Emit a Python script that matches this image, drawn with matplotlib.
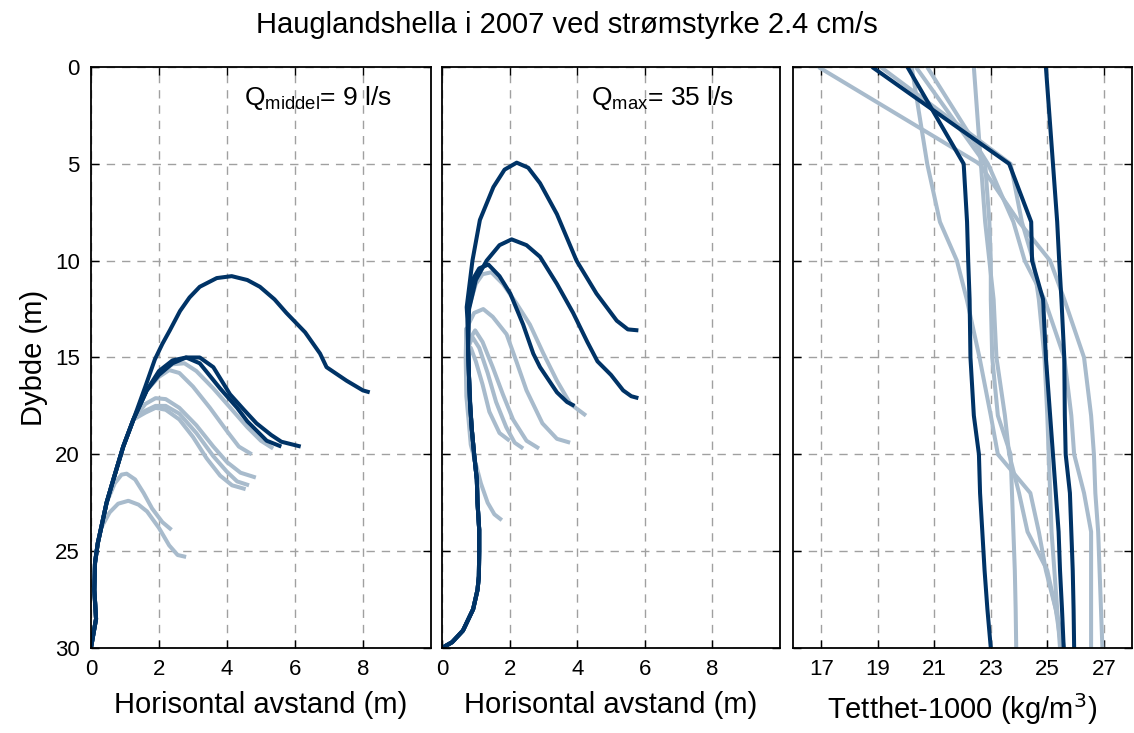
import numpy as np
import matplotlib
matplotlib.use("Agg")
import matplotlib.pyplot as plt

plt.rcParams['font.family'] = ['Liberation Sans', 'DejaVu Sans']

# farger
dark = '#003366'
light = '#A8BBCC'

# ---- panel 1: Q middel = 9 l/s  (x = horisontal avstand, d = dybde)
trunk1_x = [0.0, 0.05, 0.15, 0.1, 0.12, 0.2, 0.3]
trunk1_d = [30.0, 29.5, 28.5, 27.0, 25.6, 24.6, 23.8]
rise1_x = [0.46, 0.66, 0.95, 1.25, 1.64]
rise1_d = [22.5, 21.3, 19.6, 18.2, 16.7]

p1_dark = [
    ([1.6, 1.88, 2.1, 2.32, 2.62, 2.9, 3.2, 3.7, 4.14, 4.6, 4.97, 5.4, 5.75, 6.3, 6.74, 6.93, 7.52, 8.0, 8.2],
     [16.5, 15.1, 14.3, 13.6, 12.6, 11.9, 11.35, 10.9, 10.8, 11.0, 11.35, 12.0, 12.7, 13.7, 14.8, 15.5, 16.2, 16.7, 16.8]),
    ([2.0, 2.4, 2.8, 3.2, 3.8, 4.3, 4.6, 5.17, 5.6],
     [15.7, 15.15, 15.0, 15.3, 16.6, 17.6, 18.3, 19.3, 19.6]),
    ([2.0, 2.4, 2.8, 3.2, 3.6, 4.09, 4.5, 4.87, 5.3, 5.6, 6.17],
     [15.9, 15.3, 15.0, 15.0, 15.5, 16.9, 17.7, 18.4, 19.0, 19.35, 19.6]),
]
p1_light = [
    ([2.0, 2.4, 2.75, 3.1, 3.6, 4.1, 4.6, 5.0, 5.36],
     [15.8, 15.35, 15.3, 15.7, 16.6, 17.6, 18.6, 19.3, 19.7]),
    ([2.0, 2.3, 2.6, 3.0, 3.5, 4.0, 4.35, 4.73],
     [16.0, 15.65, 15.8, 16.5, 17.6, 18.8, 19.6, 20.0]),
]
# kurver som bøyer av fra stammen ved ca. 18 m
p1_mid = [
    ([1.6, 1.9, 2.2, 2.6, 3.1, 3.6, 4.0, 4.4, 4.85],
     [17.4, 17.1, 17.15, 17.6, 18.5, 19.6, 20.4, 20.95, 21.2]),
    ([1.6, 1.9, 2.2, 2.6, 3.1, 3.6, 4.0, 4.3, 4.65],
     [17.75, 17.5, 17.5, 17.9, 18.9, 20.1, 20.9, 21.4, 21.6]),
    ([1.6, 1.9, 2.2, 2.6, 3.0, 3.4, 3.8, 4.15, 4.55],
     [17.85, 17.6, 17.7, 18.2, 19.1, 20.2, 21.1, 21.6, 21.8]),
]
# to korte kurver som skiller seg ut lavere
p1_short = [
    ([0.46, 0.7, 0.9, 1.05, 1.3, 1.55, 1.8, 2.1, 2.37],
     [22.5, 21.5, 21.05, 21.0, 21.3, 22.0, 22.8, 23.5, 23.9]),
    ([0.55, 0.8, 1.1, 1.4, 1.65, 2.0, 2.3, 2.55, 2.8],
     [23.0, 22.55, 22.4, 22.6, 22.95, 23.8, 24.7, 25.2, 25.3]),
]

# ---- panel 2: Q max = 35 l/s
trunk2_x = [0.0, 0.3, 0.62, 0.92, 1.05, 1.09, 1.1, 1.1, 1.05, 1.03, 0.95, 0.88, 0.83, 0.8, 0.77]
trunk2_d = [30.0, 29.7, 29.1, 28.0, 27.0, 26.3, 25.0, 23.9, 22.5, 21.3, 20.0, 18.7, 17.4, 16.1, 14.5]

p2_dark = [
    ([0.75, 0.73, 0.9, 1.12, 1.52, 1.85, 2.21, 2.55, 2.9, 3.4, 3.98, 4.57, 5.17, 5.5, 5.81],
     [13.0, 12.4, 10.0, 7.9, 6.2, 5.3, 4.94, 5.2, 6.0, 7.6, 10.0, 11.7, 13.1, 13.55, 13.6]),
    ([0.8, 1.0, 1.32, 1.7, 2.06, 2.5, 2.9, 3.4, 3.88, 4.3, 4.6, 5.0, 5.36, 5.6, 5.81],
     [12.5, 11.0, 10.0, 9.2, 8.9, 9.2, 9.8, 11.2, 12.7, 14.2, 15.2, 15.9, 16.7, 17.0, 17.1]),
    ([0.78, 0.9, 1.1, 1.37, 1.7, 2.02, 2.4, 2.7, 2.9, 3.4, 3.7, 3.92],
     [12.0, 11.0, 10.4, 10.2, 10.8, 11.7, 13.3, 14.8, 15.5, 16.8, 17.3, 17.5]),
]
p2_light = [
    ([0.78, 1.0, 1.2, 1.46, 1.8, 2.2, 2.6, 3.0, 3.4, 3.8, 4.26],
     [12.5, 11.2, 10.7, 10.6, 11.2, 12.2, 13.3, 14.8, 16.2, 17.4, 18.0]),
    ([0.78, 0.95, 1.22, 1.5, 1.91, 2.2, 2.5, 2.97, 3.4, 3.79],
     [13.3, 12.7, 12.5, 12.9, 13.8, 15.2, 16.7, 18.4, 19.2, 19.4]),
    ([0.77, 0.98, 1.2, 1.5, 1.8, 2.1, 2.5, 2.87],
     [14.2, 13.6, 14.2, 15.5, 16.9, 18.2, 19.3, 19.7]),
    ([0.77, 0.9, 1.1, 1.35, 1.6, 1.9, 2.15, 2.4],
     [14.5, 13.95, 14.5, 15.8, 17.3, 18.6, 19.4, 19.7]),
    ([0.78, 0.85, 1.0, 1.2, 1.4, 1.7, 2.0],
     [15.0, 14.5, 15.2, 16.4, 17.8, 18.9, 19.3]),
    ([0.72, 0.7, 0.72, 0.8, 0.85, 1.0, 1.15, 1.35, 1.55, 1.77],
     [13.5, 15.0, 17.0, 18.5, 19.5, 20.5, 21.5, 22.5, 23.1, 23.4]),
]

# ---- panel 3: tetthet-1000 mot dybde
dens_d = [0, 5, 8, 10, 12, 15, 18, 20, 22, 24, 26, 28, 30]
dens_dark = [
    [24.95, 25.2, 25.35, 25.42, 25.5, 25.6, 25.62, 25.65, 25.8, 25.85, 25.9, 25.93, 25.95],
    [18.8, 23.65, 24.43, 24.46, 24.85, 24.95, 25.1, 25.2, 25.3, 25.4, 25.45, 25.52, 25.58],
    [20.05, 22.04, 22.16, 22.2, 22.25, 22.28, 22.4, 22.58, 22.62, 22.7, 22.78, 22.88, 23.0],
]
dens_light = [
    [16.9, 22.6, 24.0, 25.1, 25.6, 26.3, 26.55, 26.65, 26.7, 26.8, 26.85, 26.9, 26.95],
    [19.1, 23.7, 24.1, 24.5, 24.7, 24.9, 25.0, 25.05, 25.1, 25.15, 25.25, 25.35, 25.45],
    [20.2, 20.75, 21.2, 21.8, 22.15, 22.6, 23.0, 23.25, 24.4, 24.7, 24.95, 25.3, 25.5],
    [20.35, 22.8, 22.95, 23.0, 23.0, 23.05, 23.25, 23.7, 23.75, 23.8, 23.85, 23.88, 23.9],
    [20.75, 22.9, 23.8, 24.2, 24.9, 25.6, 25.85, 25.95, 26.3, 26.55, 26.55, 26.55, 26.55],
    [22.4, 22.65, 22.8, 22.95, 23.1, 23.2, 23.5, 23.65, 24.0, 24.3, 25.0, 25.3, 25.6],
]

lw = 2.9
kw = dict(lw=lw, solid_joinstyle='round', solid_capstyle='butt')
fig = plt.figure(figsize=(11.34, 7.33), dpi=100)
ax1 = fig.add_axes([0.0802, 0.116, 0.2998, 0.7926])
ax2 = fig.add_axes([0.3898, 0.116, 0.2980, 0.7926])
ax3 = fig.add_axes([0.6993, 0.116, 0.2990, 0.7926])

# panel 1
ax1.plot(trunk1_x + p1_short[0][0], trunk1_d + p1_short[0][1], color=light, **kw)
ax1.plot(trunk1_x + p1_short[1][0], trunk1_d + p1_short[1][1], color=light, **kw)
for xs, ds in p1_mid:
    ax1.plot(trunk1_x + rise1_x[:4] + xs, trunk1_d + rise1_d[:4] + ds, color=light, **kw)
for xs, ds in p1_light:
    ax1.plot(trunk1_x + rise1_x + xs, trunk1_d + rise1_d + ds, color=light, **kw)
for i, (xs, ds) in enumerate(p1_dark):
    n = 4 if i == 0 else 5
    ax1.plot(trunk1_x + rise1_x[:n] + xs, trunk1_d + rise1_d[:n] + ds, color=dark, **kw)

# panel 2
for xs, ds in p2_light:
    k = 12 if ds[-1] > 22 else len(trunk2_x)
    ax2.plot(trunk2_x[:k] + xs, trunk2_d[:k] + ds, color=light, **kw)
for xs, ds in p2_dark:
    ax2.plot(trunk2_x + xs, trunk2_d + ds, color=dark, **kw)

# panel 3
for xs in dens_light:
    ax3.plot(xs, dens_d, color=light, **kw)
for xs in dens_dark:
    ax3.plot(xs, dens_d, color=dark, **kw)

for ax in (ax1, ax2, ax3):
    ax.set_ylim(30, 0)
    ax.set_yticks([0, 5, 10, 15, 20, 25, 30])
    ax.grid(True, color='#A0A0A0', linestyle=(0, (6, 5)), linewidth=1.0)
    ax.tick_params(direction='in', length=6, width=1.0, top=True, right=True,
                   labelsize=16, pad=8)
    for s in ax.spines.values():
        s.set_linewidth(1.3)

for ax in (ax1, ax2):
    ax.set_xlim(0, 10)
    ax.set_xticks([0, 2, 4, 6, 8])
    ax.set_xlabel('Horisontal avstand (m)', fontsize=21, labelpad=8)

ax3.set_xlim(16, 28)
ax3.set_xticks([17, 19, 21, 23, 25, 27])
ax3.set_xlabel('Tetthet-1000 (kg/m$^3$)', fontsize=21, labelpad=8)

ax2.set_yticklabels([])
ax3.set_yticklabels([])
ax1.set_ylabel('Dybde (m)', fontsize=21, labelpad=5)

ax1.text(4.5, 1.6, r'$\mathregular{Q_{middel}}$= 9 l/s', fontsize=19, va='center', ha='left')
ax2.text(4.4, 1.6, r'$\mathregular{Q_{max}}$= 35 l/s', fontsize=19, va='center', ha='left')

fig.suptitle('Hauglandshella i 2007 ved strømstyrke 2.4 cm/s', fontsize=21, y=0.985)

fig.savefig('out.png', dpi=100)
